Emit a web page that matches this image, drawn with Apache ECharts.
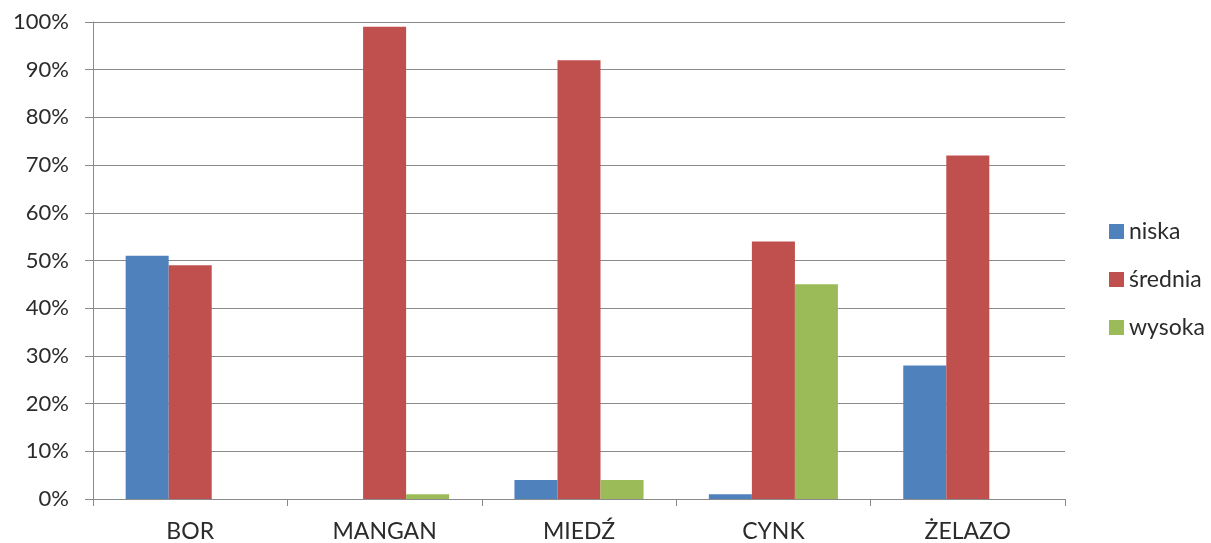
<!DOCTYPE html>
<html>
<head>
<meta charset="utf-8">
<script src="https://cdn.jsdelivr.net/npm/echarts@6/dist/echarts.min.js"></script>
<style>
  html, body { margin: 0; padding: 0; background: #fff; }
  #chart { width: 1211px; height: 543px; }
</style>
</head>
<body>
<div id="chart"></div>
<script>
// Micronutrient levels by element (share of samples, %)
const categories = ['BOR', 'MANGAN', 'MIEDŹ', 'CYNK', 'ŻELAZO'];
const niska   = [51, 0, 4, 1, 28];
const srednia = [49, 99, 92, 54, 72];
const wysoka  = [0, 1, 4, 45, 0];
const seriesNames = ['niska', 'średnia', 'wysoka'];
const colors = ['#4F81BD', '#C0504D', '#9BBB59'];

const FONT = 'Lato, "Open Sans", sans-serif';
const TEXT = '#2b2b2b';
const LINE = '#8a8a8a';

const chart = echarts.init(document.getElementById('chart'), null, { renderer: 'canvas' });

function bar(name, data, color) {
  return {
    name: name,
    type: 'bar',
    data: data,
    barGap: '0%',
    barCategoryGap: '33.6%',
    itemStyle: { color: color },
    emphasis: { disabled: true }
  };
}

chart.setOption({
  animation: false,
  color: colors,
  grid: { left: 93, right: 146, top: 22, bottom: 43, containLabel: false },
  legend: {
    orient: 'vertical',
    left: 1109,
    top: 220,
    padding: 0,
    itemWidth: 15,
    itemHeight: 15,
    itemGap: 25,
    icon: 'rect',
    data: seriesNames,
    textStyle: { fontFamily: FONT, fontSize: 23, color: TEXT, lineHeight: 23 }
  },
  xAxis: {
    type: 'category',
    data: categories,
    axisLine: { lineStyle: { color: LINE, width: 1 } },
    axisTick: { show: true, length: 7, alignWithLabel: false, lineStyle: { color: LINE } },
    axisLabel: { fontFamily: FONT, fontSize: 23, color: TEXT, margin: 21 },
    splitLine: { show: false }
  },
  yAxis: {
    type: 'value',
    min: 0,
    max: 100,
    interval: 10,
    axisLine: { show: true, lineStyle: { color: LINE, width: 1 } },
    axisTick: { show: true, length: 8, lineStyle: { color: LINE } },
    axisLabel: { fontFamily: FONT, fontSize: 22, color: TEXT, margin: 24, formatter: '{value}%' },
    splitLine: { show: true, lineStyle: { color: LINE, width: 1 } }
  },
  series: [
    bar(seriesNames[0], niska, colors[0]),
    bar(seriesNames[1], srednia, colors[1]),
    bar(seriesNames[2], wysoka, colors[2])
  ]
});
</script>
</body>
</html>
